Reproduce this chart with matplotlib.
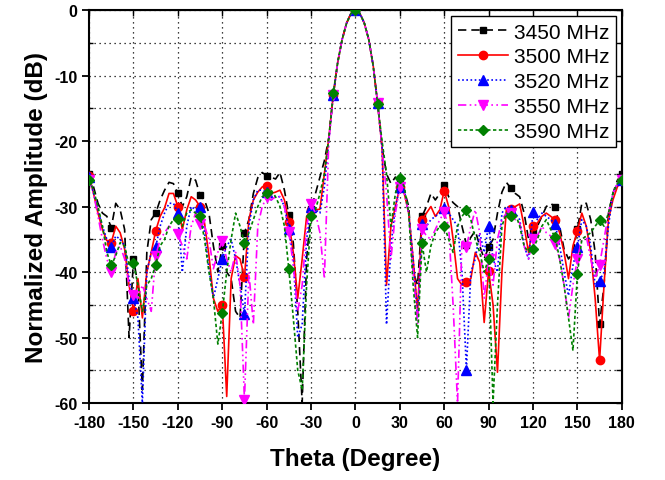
import numpy as np
import matplotlib

matplotlib.use("Agg")
import matplotlib.pyplot as plt  # noqa: E402
from matplotlib.ticker import MultipleLocator  # noqa: E402

plt.rcParams["font.family"] = ["Liberation Sans", "DejaVu Sans"]
plt.rcParams["axes.unicode_minus"] = False

# theta sampled every 3 degrees, -180 .. 180
theta = np.arange(-180, 181, 3)

labels = ["3450 MHz", "3500 MHz", "3520 MHz", "3550 MHz", "3590 MHz"]

f3450 = [
    -25.0, -27, -29.5, -31, -31.5, -33.2, -29.5, -30.5, -33.5, -50,
    -38, -42, -58, -37, -32, -31, -29, -27.5, -26.3, -26.5,
    -28, -30, -28.5, -25.5, -26, -28.3, -29, -31, -36, -40,
    -36, -40, -41, -46, -47, -34, -32, -28, -25.6, -24.8,
    -25.3, -25.5, -25.8, -24.8, -27.5, -31.3, -35.5, -46, -60, -38,
    -30.4, -28, -25.5, -23, -19.5, -13, -8, -4.5, -2, -0.5,
    0, -0.5, -2, -4.5, -8.5, -14.2, -21, -25, -26.5, -25.5,
    -26.5, -27.5, -30, -40, -42, -31.5, -30, -28, -29, -28,
    -26.7, -28.5, -29.4, -30, -33, -35.8, -34.7, -33.7, -36, -38,
    -36.2, -35, -31, -27.8, -26.3, -27.2, -28, -28.5, -31, -35,
    -33.9, -33, -31.5, -30, -29.5, -30.1, -33, -36.5, -38, -37,
    -33.5, -29.5, -29.5, -32, -37, -48, -42, -31, -28, -26,
    -25,
]
f3500 = [
    -25.3, -28, -31, -33.5, -35.2, -35.5, -33, -34, -36.5, -42,
    -46, -41, -47, -40, -37, -33.7, -31.5, -30.2, -28, -28,
    -30, -33.5, -30.5, -28.5, -29, -30, -32.5, -37.5, -44, -46,
    -45, -59, -41, -37.5, -38, -40.8, -32, -29, -27.8, -27,
    -26.8, -28, -27.8, -27.5, -29, -32.4, -37, -44, -38, -31.5,
    -30.5, -30.5, -30.4, -25, -19.5, -13, -8, -4.5, -2, -0.5,
    0, -0.5, -2, -4.5, -8.5, -14.2, -21, -42, -33, -30,
    -27, -28, -31, -38, -46, -32, -31, -30, -31.5, -30.5,
    -27.6, -30, -35, -41, -42, -41.5, -41, -37, -38.5, -47.7,
    -39.8, -45, -55.3, -40, -30.4, -30.4, -30, -29.6, -33, -37,
    -32.9, -32.5, -31.5, -31, -31.5, -32, -34, -37, -41, -36,
    -33.7, -31, -33, -37, -44, -53.5, -42, -32, -29, -27,
    -26,
]
f3520 = [
    -25.5, -28, -30.5, -33, -35, -36.2, -34.5, -35, -36, -41,
    -44, -47, -60, -40, -37, -36.2, -33, -31, -29.5, -29.5,
    -31, -40, -33, -30, -30.5, -30, -34, -39.5, -44, -41,
    -38, -36, -35, -38, -42, -46.4, -33, -29, -27.5, -27.5,
    -27.8, -29, -28.5, -28.5, -30, -33.4, -38, -50, -48, -35,
    -30, -30.5, -31, -27, -20, -13, -8, -4.5, -2, -0.5,
    0, -0.5, -2, -4.5, -8.5, -14.2, -21, -48, -36, -30,
    -27, -27.5, -31, -38, -47, -32.7, -33, -32, -31.5, -31,
    -30.2, -31, -32, -33, -40, -54.9, -40, -38, -34, -37,
    -32.9, -38, -40, -31, -30, -30.5, -31, -32, -36, -38,
    -30.9, -32, -31, -31.5, -32, -32.7, -36, -40, -43.6, -39,
    -36.2, -32, -33, -36, -42, -41.3, -40, -33, -28, -26.5,
    -26,
]
f3550 = [
    -26, -28, -31.5, -35, -38, -40, -37, -36, -38, -42,
    -43.5, -44, -42, -44, -46, -37.5, -35, -34, -33, -33.5,
    -34.2, -36, -38, -33, -31, -32.7, -33, -35, -39.5, -37,
    -35.2, -38, -40, -37, -42, -59.5, -40, -48, -33, -30,
    -28.6, -29, -28.5, -28.5, -30, -33.9, -39, -46, -42, -33,
    -29.6, -31, -34, -41, -20, -13, -8, -4.5, -2, -0.5,
    0, -0.5, -2, -4.5, -8.5, -14.2, -21, -28, -38, -31,
    -27, -28, -31, -40, -48, -33.4, -34.5, -35, -33.5, -32,
    -30.9, -33, -45, -60, -35, -36.2, -33, -30.5, -34, -44,
    -38, -42, -35, -32, -31, -31, -32, -32.5, -36, -38,
    -35, -34.5, -33, -34, -34.5, -35.7, -38, -42, -47, -42,
    -38, -35, -34.5, -38, -41, -38.9, -35, -31, -28, -26.5,
    -26,
]
f3590 = [
    -26, -27.5, -30, -33, -37, -39, -37.5, -35.5, -36, -39,
    -38.6, -42, -46, -42, -41, -38.9, -36, -35, -33, -32,
    -31.9, -33, -31, -30.5, -31, -31.4, -35, -40, -44, -51,
    -46.2, -40, -35, -31, -33, -35.6, -34, -32, -30, -28.5,
    -28, -27.5, -28.5, -30, -33, -39.6, -47, -55, -58, -42,
    -31.4, -30.5, -28, -25, -19.5, -12.7, -8, -4.5, -2, -0.5,
    0, -0.5, -2, -4.5, -8.5, -14.4, -20, -25, -33, -28,
    -25.6, -27, -31, -42, -50, -35.6, -40, -36, -34, -33,
    -32.9, -35, -37, -33, -31.5, -30.6, -32, -35, -37, -40,
    -38, -60, -45, -33, -31, -31.4, -31, -33, -36, -37,
    -36.5, -35, -33, -32, -33.5, -34.7, -38, -42, -47, -52,
    -40.3, -35, -34.5, -34, -33, -32.1, -33, -31, -28, -26.5,
    -26,
]
series = [f3450, f3500, f3520, f3550, f3590]

colors = ["black", "#ff0000", "#0000ff", "#ff00ff", "#008000"]
styles = [(0, (5, 3)), "-", (0, (1, 1.5)), (0, (5, 2, 1, 2, 1, 2)), (0, (2, 1.5))]
markers = ["s", "o", "^", "v", "D"]
msizes = [5, 6, 6.5, 6.5, 5.5]

fig = plt.figure(figsize=(6.65, 4.81), dpi=100)
ax = fig.add_axes([0.134, 0.160, 0.801, 0.817])

for vals, lab, c, ls, mk, ms in zip(series, labels, colors, styles, markers, msizes):
    ax.plot(theta, vals, color=c, linestyle=ls, lw=1.2, marker=mk, ms=ms,
            markevery=5, label=lab, zorder=3)

ax.set_xlim(-180, 180)
ax.set_ylim(-60, 0)
ax.xaxis.set_major_locator(MultipleLocator(30))
ax.yaxis.set_major_locator(MultipleLocator(10))
ax.yaxis.set_minor_locator(MultipleLocator(5))
ax.grid(which="major", axis="x", color="black", ls=(0, (1, 3)), lw=0.9)
ax.grid(which="both", axis="y", color="black", ls=(0, (1, 3)), lw=0.9)
ax.set_axisbelow(True)

ax.tick_params(which="major", direction="out", length=5, width=1.3,
               labelsize=11.5)
ax.tick_params(which="minor", direction="in", length=3, width=1.0)
for t in ax.get_xticklabels() + ax.get_yticklabels():
    t.set_fontweight("bold")
for sp in ax.spines.values():
    sp.set_linewidth(1.5)

# mirrored inward ticks on right / top
ry = ax.secondary_yaxis("right")
ry.yaxis.set_major_locator(MultipleLocator(5))
ry.tick_params(direction="in", length=4, width=1.0, labelright=False)
tx = ax.secondary_xaxis("top")
tx.xaxis.set_major_locator(MultipleLocator(30))
tx.tick_params(direction="in", length=4, width=1.0, labeltop=False)

ax.set_xlabel("Theta (Degree)", fontsize=17.5, fontweight="bold", labelpad=12)
ax.set_ylabel("Normalized Amplitude (dB)", fontsize=17.5, fontweight="bold",
              labelpad=4)

leg = ax.legend(loc="upper right", fontsize=15, numpoints=1, handlelength=2.4,
                handletextpad=0.3, labelspacing=0.28, borderpad=0.3,
                borderaxespad=0.3, fancybox=False, framealpha=1)
leg.get_frame().set_edgecolor("black")
leg.get_frame().set_linewidth(1.0)

fig.savefig("out.png", dpi=100)
